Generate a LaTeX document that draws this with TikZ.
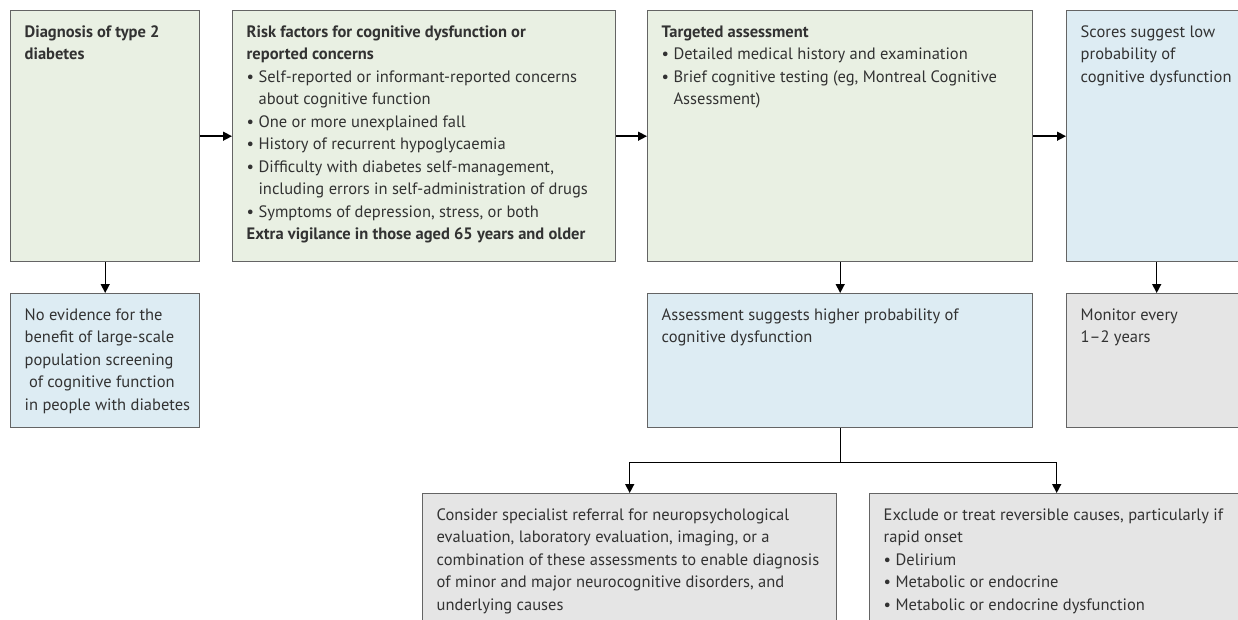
\documentclass[tikz,border=0pt]{standalone}
\usepackage{fontspec}
\setmainfont{PT Sans}
\usetikzlibrary{arrows.meta}
\definecolor{vertfond}{RGB}{233,240,227}
\definecolor{bleufond}{RGB}{221,236,243}
\definecolor{grisfond}{RGB}{229,229,229}
\definecolor{trait}{RGB}{100,100,100}
\definecolor{texte}{RGB}{50,50,50}

\begin{document}
\begin{tikzpicture}[
       x=1pt, y=-1pt,
       line width=1.4pt,
       etape/.style={
         draw=trait,
         anchor=north west,
         inner xsep=14pt,
         inner ysep=15pt,
         text=texte,
         font=\fontsize{16.5}{22.5}\selectfont
       },
       vert/.style={etape, fill=vertfond},
       bleu/.style={etape, fill=bleufond},
       gris/.style={etape, fill=grisfond},
       fleche/.style={draw=black, -{Triangle[length=9pt,width=9pt]}}
     ]

       \useasboundingbox (0,0) rectangle (1238,620);
       \clip (0,0) rectangle (1238,620);

       \node (b1) at (10,10) [vert]{\parbox[c][221pt][t]{161pt}{\raggedright
         \textbf{Diagnosis of type 2\\ diabetes}}};
       \node (b2) at (232,10) [vert]{\parbox[c][221pt][t]{355pt}{\raggedright
         \textbf{Risk factors for cognitive dysfunction or\\ reported concerns}\\
         \textbullet\ Self-reported or informant-reported concerns\\
         \phantom{\textbullet\ }about cognitive function\\
         \textbullet\ One or more unexplained fall\\
         \textbullet\ History of recurrent hypoglycaemia\\
         \textbullet\ Difficulty with diabetes self-management,\\
         \phantom{\textbullet\ }including errors in self-administration of drugs\\
         \textbullet\ Symptoms of depression, stress, or both\\
         \textbf{Extra vigilance in those aged 65 years and older}}};
       \node (b3) at (647,10) [vert]{\parbox[c][221pt][t]{357pt}{\raggedright
         \textbf{Targeted assessment}\\
         \textbullet\ Detailed medical history and examination\\
         \textbullet\ Brief cognitive testing (eg, Montreal Cognitive\\
         \phantom{\textbullet\ }Assessment)}};
       \node (b4) at (1066,10) [bleu]{\parbox[c][221pt][t]{152pt}{\raggedright
         Scores suggest low\\ probability of\\ \mbox{cognitive dysfunction}}};

       \node (b5) at (10,293) [bleu]{\parbox[c][104pt][t]{161pt}{\raggedright
         No evidence for the\\ benefit of large-scale\\ population screening\\
         \mbox{} of cognitive function\\ \mbox{in people with diabetes}}};
       \node (b6) at (647,293) [bleu]{\parbox[c][104pt][t]{357pt}{\raggedright
         Assessment suggests higher probability of\\ cognitive dysfunction}};
       \node (b7) at (1066,293) [gris]{\parbox[c][104pt][t]{152pt}{\raggedright
         Monitor every\\ 1--2 years}};

       \node (b8) at (422,493) [gris]{\parbox[c][120pt][t]{386pt}{\raggedright
         Consider specialist referral for neuropsychological\\
         evaluation, laboratory evaluation, imaging, or a\\
         \mbox{combination of these assessments to enable diagnosis}\\
         of minor and major neurocognitive disorders, and\\
         underlying causes}};
       \node (b9) at (869,493) [gris]{\parbox[c][120pt][t]{346pt}{\raggedright
         Exclude or treat reversible causes, particularly if\\ rapid onset\\
         \textbullet\ Delirium\\
         \textbullet\ Metabolic or endocrine\\
         \textbullet\ Metabolic or endocrine dysfunction}};

       \draw[fleche] (b1) -- (b2);
       \draw[fleche] (b2) -- (b3);
       \draw[fleche] (b3) -- (b4);

       \draw[fleche] (b1) -- (b5);
       \draw[fleche] (b3) -- (b6);
       \draw[fleche] (b4) -- (b7);

       \draw (b6.south) -- ++(0,34) coordinate (c1);
       \draw[fleche] (c1) -| (b8);
       \draw[fleche] (c1) -| (b9);

\end{tikzpicture}
\end{document}
